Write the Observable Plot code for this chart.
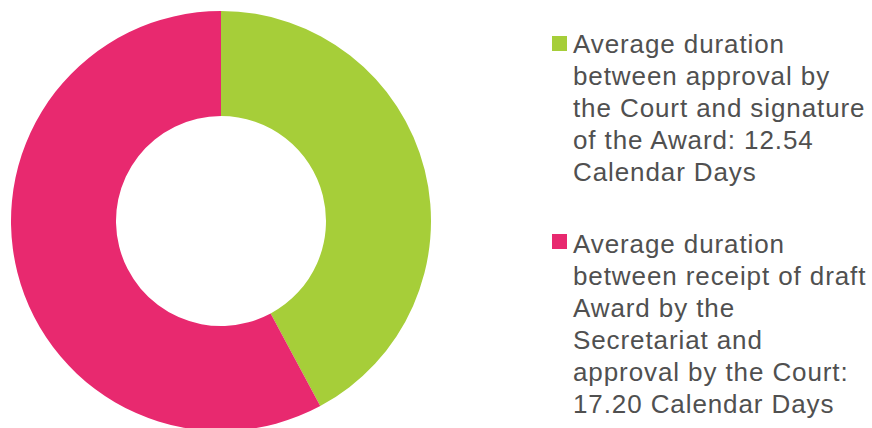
<!DOCTYPE html>
<html>
<head>
<meta charset="utf-8">
<script src="https://cdn.jsdelivr.net/npm/d3@7"></script>
<script src="https://cdn.jsdelivr.net/npm/@observablehq/plot@0.6"></script>
<style>
  html, body { margin: 0; padding: 0; background: #fff; }
  #wrap { position: relative; width: 872px; height: 428px; overflow: hidden; }
  #chart { position: absolute; left: 0; top: 0; }
  .item { position: absolute; left: 552px; font-family: "Liberation Sans", Arial, sans-serif; font-size: 26px; line-height: 32px; letter-spacing: 0.9px; color: #505050; }
  .sw { position: absolute; left: 0; width: 15px; height: 15px; }
  .txt { position: absolute; left: 21px; white-space: nowrap; }
</style>
</head>
<body>
<div id="wrap"><div id="chart"></div></div>
<script>
const categories = ["Approval by the Court to signature of the Award", "Receipt of draft Award to approval by the Court"];
const values = [12.54, 17.20];
const colors = ["#A6CE39", "#E8296F"];
const legendLines = [
  ["Average duration", "between approval by", "the Court and signature", "of the Award: 12.54", "Calendar Days"],
  ["Average duration", "between receipt of draft", "Award by the", "Secretariat and", "approval by the Court:", "17.20 Calendar Days"]
];

const data = categories.map((c, i) => ({category: c, value: values[i], color: colors[i]}));

function donut(index, scales, vals, dimensions, context) {
  const cx = scales.x(0), cy = scales.y(0);
  const R = Math.abs(scales.x(1) - scales.x(0));
  const r = R * 0.5;
  const pie = d3.pie().sort(null).value(d => d.value)(data);
  const arc = d3.arc().innerRadius(r).outerRadius(R);
  const g = d3.create("svg:g").attr("transform", `translate(${cx},${cy})`);
  g.selectAll("path").data(pie).join("path")
    .attr("d", arc)
    .attr("fill", d => d.data.color);
  return g.node();
}

const plot = Plot.plot({
  width: 872,
  height: 428,
  margin: 0,
  x: {domain: [-1, 1], range: [11, 431], axis: null},
  y: {domain: [-1, 1], range: [431, 11], axis: null},
  marks: [donut]
});
document.getElementById("chart").appendChild(plot);

const wrap = document.getElementById("wrap");
const tops = [28, 228];
const swTops = [8, 6];
legendLines.forEach((lines, i) => {
  const item = document.createElement("div");
  item.className = "item";
  item.style.top = tops[i] + "px";
  const sw = document.createElement("div");
  sw.className = "sw";
  sw.style.background = colors[i];
  sw.style.top = swTops[i] + "px";
  const txt = document.createElement("div");
  txt.className = "txt";
  txt.innerHTML = lines.join("<br>");
  item.appendChild(sw);
  item.appendChild(txt);
  wrap.appendChild(item);
});
</script>
</body>
</html>
